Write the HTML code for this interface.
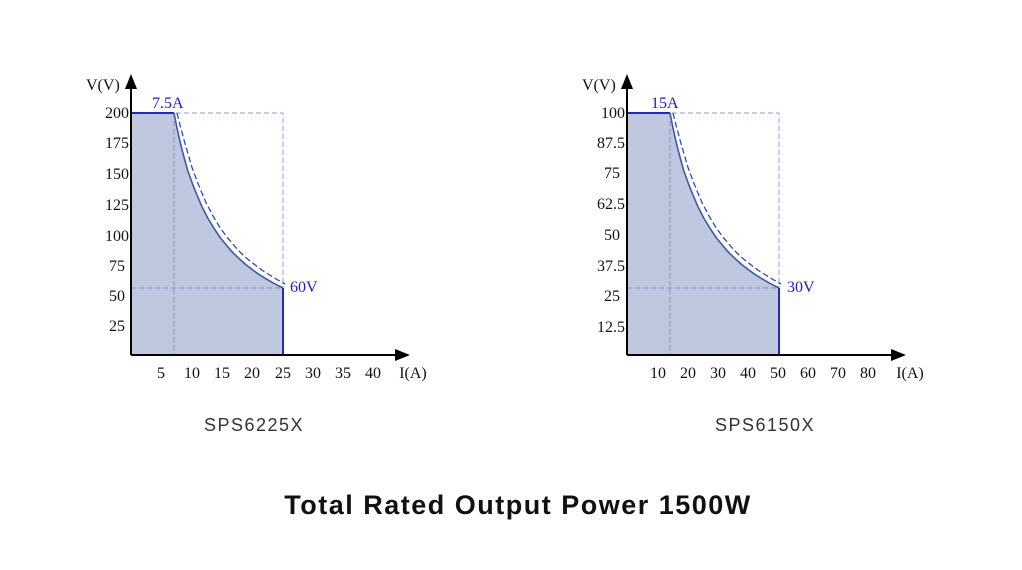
<!DOCTYPE html>
<html><head><meta charset="utf-8"><style>
html,body{margin:0;padding:0;background:#fff;}
svg{display:block;}
.t{font-family:"Liberation Serif",serif;font-size:16px;fill:#111;}
.b{font-family:"Liberation Serif",serif;font-size:16px;fill:#1a1ad0;}
</style></head><body>
<svg width="1022" height="570" viewBox="0 0 1022 570" xmlns="http://www.w3.org/2000/svg">
<defs>
<g id="chart">
  <path d="M131,113 L174,113 L177.1,128.6 L180.2,142.4 L183.3,154.6 L187.7,170.5 L192.7,184.4 L197,195 L202,206.8 L208,218.5 L214.5,229.1 L220.5,238 L226.9,245.8 L233,252.8 L239.4,258.9 L245.5,264.4 L251.9,269.3 L258,273.8 L264.3,277.8 L273.6,283.2 L283,288 L283,355 L131,355 Z" fill="#c0c8e0"/>
  <line x1="174" y1="113" x2="174" y2="355" stroke="#8888dd" stroke-width="1" stroke-dasharray="5,3"/>
  <line x1="131" y1="288" x2="283" y2="288" stroke="#8888bb" stroke-width="1" stroke-dasharray="5,3"/>
  <polyline points="176,113 283,113 283,288" fill="none" stroke="#9a9ae6" stroke-width="1" stroke-dasharray="5,3"/>
  <path d="M177,113 L180.5,127 L184,140 L187.5,152 L192,167.5 L197,181 L201.5,192 L206.5,203.5 L212.5,215 L219,226 L225,234.5 L231.5,242.5 L237.5,249.5 L244,256 L250,261 L256.5,266 L262.5,270.5 L269,274.5 L277,279.5 L285,284" fill="none" stroke="#3344cc" stroke-width="1.3" stroke-dasharray="6,3"/>
  <path d="M174,113 L177.1,128.6 L180.2,142.4 L183.3,154.6 L187.7,170.5 L192.7,184.4 L197,195 L202,206.8 L208,218.5 L214.5,229.1 L220.5,238 L226.9,245.8 L233,252.8 L239.4,258.9 L245.5,264.4 L251.9,269.3 L258,273.8 L264.3,277.8 L273.6,283.2 L283,288" fill="none" stroke="#3a5aa8" stroke-width="1.6" stroke-linejoin="round"/>
  <line x1="131" y1="113" x2="174" y2="113" stroke="#1a2acc" stroke-width="2"/>
  <line x1="283" y1="288" x2="283" y2="355" stroke="#1a2acc" stroke-width="2"/>
  <line x1="131" y1="355" x2="131" y2="86" stroke="#000" stroke-width="2"/>
  <polygon points="131,74 125,89 137,89" fill="#000"/>
  <line x1="131" y1="355" x2="398" y2="355" stroke="#000" stroke-width="2"/>
  <polygon points="410,355 395,349 395,361" fill="#000"/>
</g>
</defs>
<use href="#chart"/>
<use href="#chart" x="496"/>
<g class="t">
<text x="86" y="90">V(V)</text>
<g text-anchor="end">
<text x="129" y="118">200</text><text x="129" y="148">175</text><text x="129" y="179">150</text><text x="129" y="210">125</text><text x="129" y="241">100</text><text x="125" y="271">75</text><text x="125" y="301">50</text><text x="125" y="331">25</text>
</g>
<g text-anchor="middle">
<text x="161" y="378">5</text><text x="192" y="378">10</text><text x="222" y="378">15</text><text x="252" y="378">20</text><text x="283" y="378">25</text><text x="313" y="378">30</text><text x="343" y="378">35</text><text x="373" y="378">40</text><text x="413" y="378">I(A)</text>
</g>
<text x="582" y="90">V(V)</text>
<g text-anchor="end">
<text x="625" y="118">100</text><text x="625" y="148">87.5</text><text x="620" y="178">75</text><text x="625" y="209">62.5</text><text x="620" y="240">50</text><text x="625" y="271">37.5</text><text x="620" y="301">25</text><text x="625" y="332">12.5</text>
</g>
<g text-anchor="middle">
<text x="658" y="378">10</text><text x="688" y="378">20</text><text x="718" y="378">30</text><text x="748" y="378">40</text><text x="778" y="378">50</text><text x="808" y="378">60</text><text x="838" y="378">70</text><text x="868" y="378">80</text><text x="910" y="378">I(A)</text>
</g>
</g>
<text class="b" x="152" y="108">7.5A</text>
<text class="b" x="290" y="292">60V</text>
<text class="b" x="651" y="108">15A</text>
<text class="b" x="787" y="292">30V</text>
<text x="254" y="431" text-anchor="middle" font-family="Liberation Sans, sans-serif" font-size="18" fill="#333" letter-spacing="1.5">SPS6225X</text>
<text x="765" y="431" text-anchor="middle" font-family="Liberation Sans, sans-serif" font-size="18" fill="#333" letter-spacing="1.5">SPS6150X</text>
<text x="518" y="514" text-anchor="middle" font-family="Liberation Sans, sans-serif" font-size="27" font-weight="bold" fill="#111" letter-spacing="1.5">Total Rated Output Power 1500W</text>
</svg>
</body></html>
